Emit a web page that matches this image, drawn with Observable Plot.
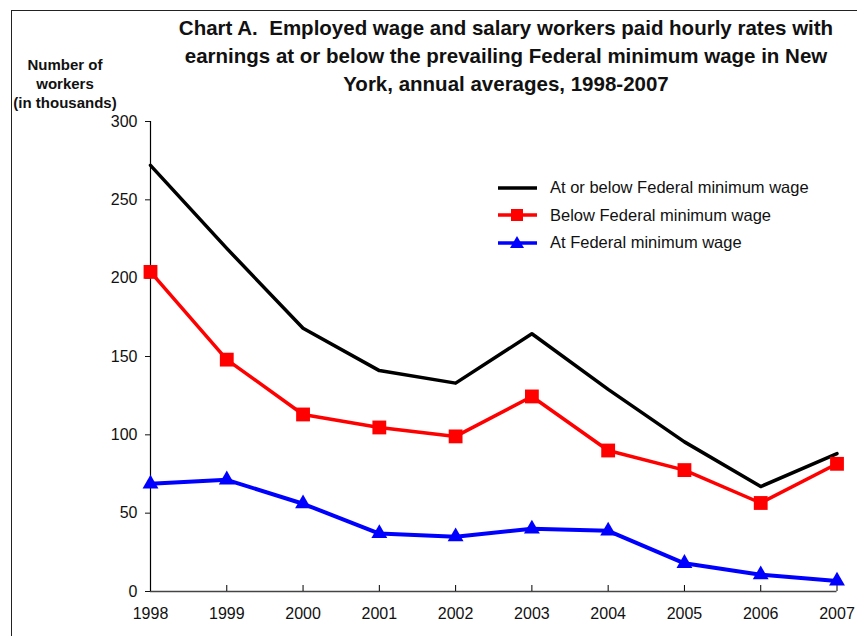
<!DOCTYPE html>
<html>
<head>
<meta charset="utf-8">
<script src="https://cdn.jsdelivr.net/npm/d3@7"></script>
<script src="https://cdn.jsdelivr.net/npm/@observablehq/plot@0.6"></script>
<style>
  html, body { margin: 0; padding: 0; background: #fff; }
  #wrap { position: relative; width: 857px; height: 636px; overflow: hidden; font-family: Arial, "Liberation Sans", sans-serif; }
  #frame { position: absolute; left: 11px; top: 10px; width: 900px; height: 700px; border-left: 1.5px solid #222; border-top: 1.5px solid #222; }
  #title { position: absolute; left: 150px; width: 712px; top: 14px; text-align: center; font-weight: bold; font-size: 20.5px; line-height: 28px; color: #111; }
  #ylab { position: absolute; left: 6px; width: 118px; top: 55px; text-align: center; font-weight: bold; font-size: 15px; line-height: 19px; color: #111; }
  #legend { position: absolute; left: 496px; top: 174px; font-size: 16.5px; color: #111; }
  #legend .row { display: flex; align-items: center; height: 27.5px; }
  #legend svg { width: 54px; height: 20px; margin-right: 0px; }
  #chart { position: absolute; left: 0; top: 0; }
</style>
</head>
<body>
<div id="wrap">
  <div id="chart"></div>
  <div id="frame"></div>
  <div id="title">Chart A.&nbsp; Employed wage and salary workers paid hourly rates with<br>earnings at or below the prevailing Federal minimum wage in New<br>York, annual averages, 1998-2007</div>
  <div id="ylab">Number of<br>workers<br>(in thousands)</div>
  <div id="legend"></div>
</div>
<script>
const years = [1998, 1999, 2000, 2001, 2002, 2003, 2004, 2005, 2006, 2007];
const atOrBelow = [272, 219, 168, 141, 133, 164.5, 129, 95.5, 67, 88];
const below = [204, 148, 113, 104.7, 99, 124.5, 90, 77.5, 56.5, 81.5];
const atMin = [68.7, 71.3, 56, 37, 35, 40, 38.7, 18, 10.7, 6.7];
const yTicks = [0, 50, 100, 150, 200, 250, 300];
const seriesNames = ["At or below Federal minimum wage", "Below Federal minimum wage", "At Federal minimum wage"];
const seriesColors = ["#000000", "#ff0000", "#0000ff"];

const rows = (vals) => years.map((y, i) => ({year: y, value: vals[i]}));
const dBlack = rows(atOrBelow), dRed = rows(below), dBlue = rows(atMin);

const chart = Plot.plot({
  width: 857,
  height: 636,
  marginLeft: 150,
  marginRight: 20.5,
  marginTop: 121,
  marginBottom: 45,
  style: {fontFamily: "Arial, 'Liberation Sans', sans-serif", fontSize: "16px", color: "#111", background: "transparent"},
  x: {type: "linear", domain: [1998, 2007], label: null},
  y: {domain: [0, 300], label: null},
  marks: [
    Plot.ruleY([0], {stroke: "#444", strokeWidth: 1.5}),
    Plot.ruleX([1998], {y1: 0, y2: 300, stroke: "#000", strokeWidth: 1.2}),
    Plot.ruleX(years, {x: d => d, y1: 0, y2: 0, insetBottom: 6, stroke: "#000", strokeWidth: 1}),
    Plot.axisY({ticks: yTicks, tickSize: 5, tickPadding: 8, tickFormat: d => String(d), fontSize: 16, label: null}),
    Plot.axisX({ticks: years, tickSize: 0, tickPadding: 16, tickFormat: d => String(d), fontSize: 16, label: null}),
    Plot.line(dBlack, {x: "year", y: "value", stroke: seriesColors[0], strokeWidth: 3.5}),
    Plot.line(dRed, {x: "year", y: "value", stroke: seriesColors[1], strokeWidth: 3.5}),
    Plot.dot(dRed, {x: "year", y: "value", symbol: "square", r: 7.8, fill: seriesColors[1], stroke: "none"}),
    Plot.line(dBlue, {x: "year", y: "value", stroke: seriesColors[2], strokeWidth: 4}),
    Plot.dot(dBlue, {x: "year", y: "value", symbol: "triangle", r: 5.9, fill: seriesColors[2], stroke: "none"})
  ]
});
document.getElementById("chart").appendChild(chart);

// legend
const legend = document.getElementById("legend");
const symbols = [null, "square", "triangle"];
seriesNames.forEach((name, i) => {
  const row = document.createElement("div");
  row.className = "row";
  let sym = "";
  if (symbols[i] === "square") sym = `<rect x="15" y="4" width="12" height="12" fill="${seriesColors[i]}"/>`;
  if (symbols[i] === "triangle") sym = `<path d="M21,3 L28,15 L14,15 Z" fill="${seriesColors[i]}"/>`;
  row.innerHTML = `<svg viewBox="0 0 54 20"><line x1="2" y1="10" x2="41" y2="10" stroke="${seriesColors[i]}" stroke-width="3.5"/>${sym}</svg><span>${name}</span>`;
  legend.appendChild(row);
});
</script>
</body>
</html>
